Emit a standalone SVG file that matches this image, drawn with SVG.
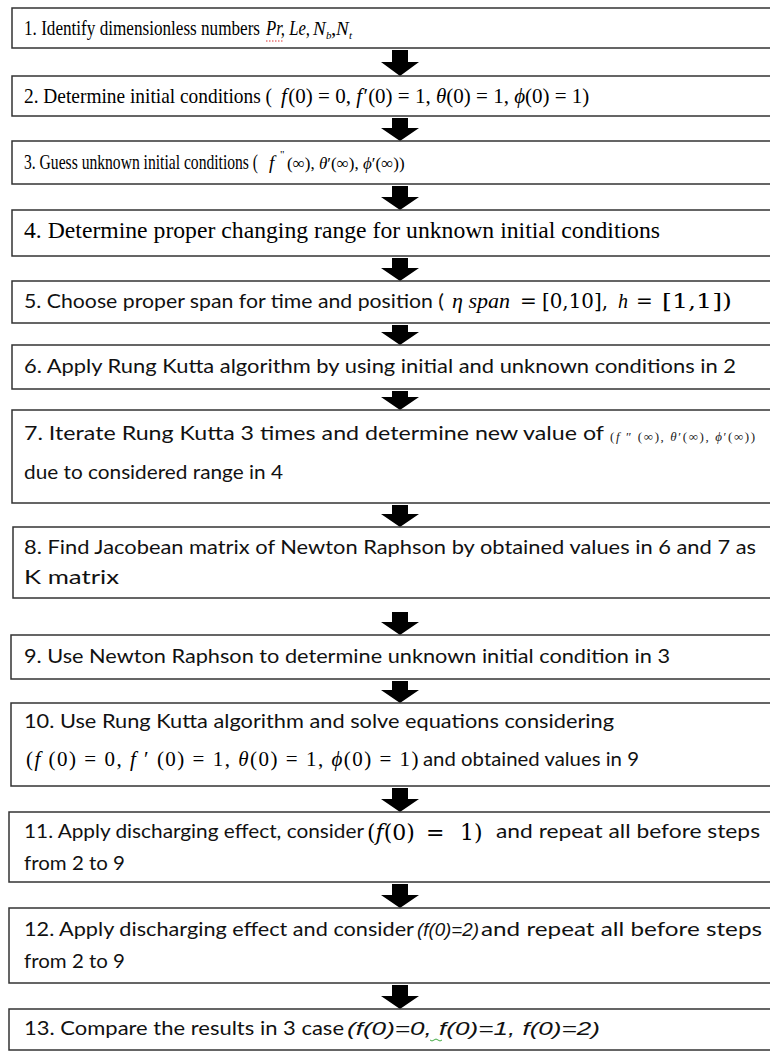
<svg xmlns="http://www.w3.org/2000/svg" width="770" height="1057" viewBox="0 0 770 1057">
<style>
.box{fill:#fff;stroke:#333;stroke-width:1.5}
.ser{font-family:"Liberation Serif","Times New Roman",serif;font-size:21px;fill:#000}
.san{font-family:Lato,"Liberation Sans",sans-serif;font-size:19px;fill:#111}
.si{font-family:"Liberation Sans",Lato,sans-serif;font-size:19px;font-style:italic;fill:#111}
.m{font-family:"Liberation Serif","DejaVu Serif",serif;font-size:21px;fill:#000}
.md{font-family:"DejaVu Serif","Liberation Serif",serif;font-size:20px;fill:#000}
.ms{font-family:"Liberation Serif","DejaVu Serif",serif;font-size:13px;letter-spacing:1.6px;fill:#222}
.sub{font-size:11px}
.i{font-style:italic}
.arr{fill:#000}
</style>
<rect width="770" height="1057" fill="#fff"/>
<g id="connectors">
<path class="arr" d="M392,50 h16 v12 h11 l-19,14 l-19,-14 h11 z"/>
<path class="arr" d="M392,118 h16 v10 h11 l-19,13 l-19,-13 h11 z"/>
<path class="arr" d="M392,186 h16 v11 h11 l-19,13 l-19,-13 h11 z"/>
<path class="arr" d="M392,258 h16 v10 h11 l-19,13 l-19,-13 h11 z"/>
<path class="arr" d="M392,325 h16 v7 h11 l-19,13 l-19,-13 h11 z"/>
<path class="arr" d="M392,391 h16 v6 h11 l-19,13 l-19,-13 h11 z"/>
<path class="arr" d="M392,505 h16 v9 h11 l-19,13 l-19,-13 h11 z"/>
<path class="arr" d="M392,612 h16 v10 h11 l-19,13 l-19,-13 h11 z"/>
<path class="arr" d="M392,681 h16 v9 h11 l-19,13 l-19,-13 h11 z"/>
<path class="arr" d="M392,788 h16 v11 h11 l-19,13 l-19,-13 h11 z"/>
<path class="arr" d="M392,884 h16 v11 h11 l-19,13 l-19,-13 h11 z"/>
<path class="arr" d="M392,985 h16 v11 h11 l-19,13 l-19,-13 h11 z"/>
</g>
<g id="n1">
<rect class="box" x="12" y="8" width="770" height="40"/>
<text class="ser" x="24" y="35" textLength="236" lengthAdjust="spacingAndGlyphs">1.  Identify dimensionless numbers</text>
<text class="ser i" x="266" y="35" textLength="44" lengthAdjust="spacingAndGlyphs">Pr, Le,</text>
<text class="ser i" x="313" y="35" style="font-size:19px">N</text>
<text class="ser i sub" x="326" y="39">b</text>
<text class="ser" x="331" y="35">,</text>
<text class="ser i" x="336" y="35" style="font-size:19px">N</text>
<text class="ser i sub" x="349" y="39">t</text>
<path d="M266,41 h17" stroke="#d33" stroke-width="1" stroke-dasharray="1.5,1.5"/>
</g>
<g id="n2">
<rect class="box" x="12" y="76" width="770" height="40"/>
<text class="ser" x="24" y="103" textLength="248" lengthAdjust="spacingAndGlyphs">2. Determine initial conditions (</text>
<text class="m" x="281" y="103"><tspan class="i">f</tspan><tspan dx="1.5">(0) = 0, </tspan><tspan class="i">f</tspan><tspan dx="1.5">′(0) = 1, </tspan><tspan class="i">θ</tspan>(0) = 1, <tspan class="i">ϕ</tspan>(0) = 1)</text>
</g>
<g id="n3">
<rect class="box" x="12" y="141" width="770" height="43"/>
<text class="ser" x="24" y="169" textLength="234" lengthAdjust="spacingAndGlyphs">3. Guess unknown initial conditions (</text>
<text class="m i" x="269" y="169" style="font-size:19px">f</text>
<text class="m sub" x="280" y="158">"</text>
<text class="m" x="287" y="169" style="font-size:17px">(∞), <tspan class="i">θ</tspan>′(∞), <tspan class="i">ϕ</tspan>′(∞))</text>
</g>
<g id="n4">
<rect class="box" x="12" y="210" width="770" height="46"/>
<text x="24" y="238" font-family="Liberation Serif, Times New Roman, serif" font-size="23" fill="#000" textLength="636" lengthAdjust="spacingAndGlyphs">4. Determine proper changing range for unknown initial conditions</text>
</g>
<g id="n5">
<rect class="box" x="12" y="281" width="770" height="42"/>
<text class="san" x="24" y="308" textLength="420" lengthAdjust="spacingAndGlyphs">5. Choose proper span for time and position (</text>
<text class="m i" x="452" y="308" style="font-size:20px" textLength="58" lengthAdjust="spacingAndGlyphs">η span</text>
<text class="md" x="520" y="308">=</text>
<text class="md" x="542" y="308" textLength="66" lengthAdjust="spacingAndGlyphs">[0,10],</text>
<text class="m i" x="618" y="308" style="font-size:20px">h</text>
<text class="md" x="636" y="308">=</text>
<text class="md" x="662" y="308" textLength="70" lengthAdjust="spacingAndGlyphs">[1,1])</text>
</g>
<g id="n6">
<rect class="box" x="12" y="345" width="770" height="44"/>
<text class="san" x="24" y="373" textLength="712" lengthAdjust="spacingAndGlyphs">6. Apply Rung Kutta algorithm by using initial  and unknown conditions in 2</text>
</g>
<g id="n7">
<rect class="box" x="12" y="410" width="770" height="93"/>
<text class="san" x="24" y="440" textLength="580" lengthAdjust="spacingAndGlyphs">7. Iterate Rung Kutta 3 times and determine new value of</text>
<text class="ms" x="610" y="441">(<tspan class="i">f</tspan> ″ (∞), <tspan class="i">θ</tspan>′(∞), <tspan class="i">ϕ</tspan>′(∞))</text>
<text class="san" x="24" y="479" textLength="259" lengthAdjust="spacingAndGlyphs">due to considered range in 4</text>
</g>
<g id="n8">
<rect class="box" x="13" y="527" width="770" height="71"/>
<text class="san" x="24" y="554" textLength="732" lengthAdjust="spacingAndGlyphs">8. Find Jacobean matrix of Newton Raphson by obtained values in 6 and 7 as</text>
<text class="san" x="24" y="584" textLength="95" lengthAdjust="spacingAndGlyphs">K   matrix</text>
</g>
<g id="n9">
<rect class="box" x="11" y="635" width="770" height="44"/>
<text class="san" x="24" y="663" textLength="646" lengthAdjust="spacingAndGlyphs">9. Use Newton Raphson to determine unknown initial condition in 3</text>
</g>
<g id="n10">
<rect class="box" x="11" y="703" width="770" height="83"/>
<text class="san" x="24" y="728" textLength="590" lengthAdjust="spacingAndGlyphs">10. Use Rung Kutta algorithm and solve equations considering</text>
<text class="m" x="26" y="766" style="letter-spacing:1.5px">(<tspan class="i">f</tspan> (0) = 0, <tspan class="i">f</tspan> ′ (0) = 1, <tspan class="i">θ</tspan>(0) = 1, <tspan class="i">ϕ</tspan>(0) = 1)</text>
<text class="san" x="423" y="766" textLength="216" lengthAdjust="spacingAndGlyphs">and obtained values in 9</text>
</g>
<g id="n11">
<rect class="box" x="9" y="812" width="770" height="70"/>
<text class="san" x="24" y="838" textLength="340" lengthAdjust="spacingAndGlyphs">11. Apply discharging effect, consider</text>
<text class="md" x="367" y="840" style="font-size:22px">(<tspan class="i">f</tspan>(0)</text>
<text class="md" x="426" y="840" style="font-size:22px">=</text>
<text class="md" x="460" y="840" style="font-size:22px">1)</text>
<text class="san" x="496" y="838" textLength="264" lengthAdjust="spacingAndGlyphs">and repeat all before steps</text>
<text class="san" x="24" y="870" textLength="101" lengthAdjust="spacingAndGlyphs">from 2 to 9</text>
</g>
<g id="n12">
<rect class="box" x="9" y="908" width="770" height="75"/>
<text class="san" x="24" y="936" textLength="390" lengthAdjust="spacingAndGlyphs">12. Apply discharging effect and consider</text>
<text class="si" x="417" y="936" textLength="62" lengthAdjust="spacingAndGlyphs">(f(0)=2)</text>
<text class="san" x="481" y="936" textLength="281" lengthAdjust="spacingAndGlyphs">and repeat all before steps</text>
<text class="san" x="24" y="968" textLength="101" lengthAdjust="spacingAndGlyphs">from 2 to 9</text>
</g>
<g id="n13">
<rect class="box" x="9" y="1009" width="770" height="41"/>
<text class="san" x="24" y="1035" textLength="320" lengthAdjust="spacingAndGlyphs">13. Compare the results in 3 case</text>
<text class="si" x="347" y="1035" textLength="253" lengthAdjust="spacingAndGlyphs">(f(0)=0,  f(0)=1,  f(0)=2)</text>
<path d="M430,1040 q2,2 4,0 t4,0 t4,0" fill="none" stroke="#4a4" stroke-width="1"/>
</g>
</svg>
